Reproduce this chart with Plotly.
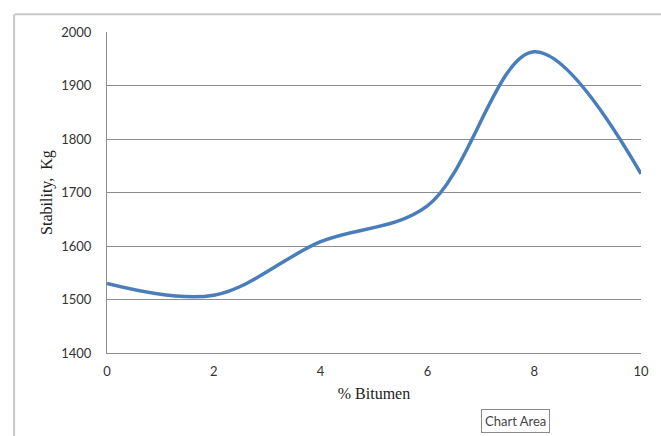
import plotly.graph_objects as go

bitumen = [0, 2, 4, 6, 8, 10]
stability = [1530, 1508, 1608, 1675, 1963, 1735]
x_ticks = [0, 2, 4, 6, 8, 10]
y_ticks = [1400, 1500, 1600, 1700, 1800, 1900, 2000]

fig = go.Figure()
fig.add_trace(go.Scatter(
    x=bitumen, y=stability, mode="lines",
    line=dict(color="#4A7EBB", width=3.5, shape="spline", smoothing=1.0),
    showlegend=False, hoverinfo="skip",
))

tick_font = dict(family="Lato, Liberation Sans, sans-serif", size=13, color="#333333")
title_font = dict(family="Liberation Serif, Times New Roman, serif", size=16, color="#222222")

fig.update_layout(
    width=661, height=436,
    margin=dict(l=107, r=18, t=32, b=83),
    paper_bgcolor="white", plot_bgcolor="white",
    xaxis=dict(
        range=[0, 10], tickvals=x_ticks, ticktext=[str(v) for v in x_ticks],
        showgrid=False, zeroline=False, showline=True, linecolor="#8c8c8c", linewidth=1,
        ticks="", tickfont=tick_font, ticklabelstandoff=6,
        title=dict(text="% Bitumen", font=title_font, standoff=10),
    ),
    yaxis=dict(
        range=[1400, 2000], tickvals=y_ticks, ticktext=[str(v) for v in y_ticks],
        showgrid=True, gridcolor="#8c8c8c", gridwidth=1, zeroline=False,
        showline=True, linecolor="#8c8c8c", linewidth=1,
        ticks="", tickfont=tick_font, ticklabelstandoff=12,
        title=dict(text="Stability,  Kg", font=title_font, standoff=4),
    ),
    shapes=[
        dict(type="line", xref="paper", yref="paper", x0=-0.173, x1=1.05, y0=1.055, y1=1.055,
             line=dict(color="#c8c8c8", width=2), layer="above"),
        dict(type="line", xref="paper", yref="paper", x0=-0.174, x1=-0.174, y0=-0.3, y1=1.055,
             line=dict(color="#c8c8c8", width=2), layer="above"),
    ],
    annotations=[
        dict(text="Chart Area", xref="paper", yref="paper", x=0.700, y=-0.175,
             xanchor="left", yanchor="top", showarrow=False,
             font=dict(family="Lato, Liberation Sans, sans-serif", size=13, color="#444444"),
             bgcolor="white", bordercolor="#8a8a8a", borderwidth=1, borderpad=3),
    ],
)

fig.write_html("out.html", config={"displayModeBar": False},
               post_script="document.body.style.margin='0';")
